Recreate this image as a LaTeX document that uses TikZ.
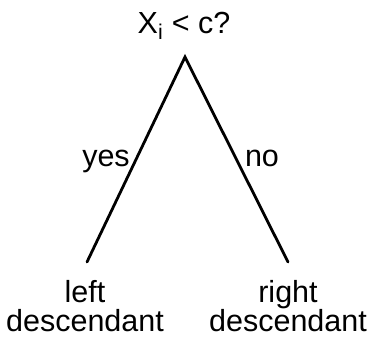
\documentclass[tikz,border=0pt]{standalone}
\usepackage{fontspec}
\setmainfont{Liberation Sans}
\begin{document}
\begin{tikzpicture}[x=1pt,y=-1pt,
  lbl/.style={font=\fontsize{30.5}{27}\selectfont, inner sep=0pt},
  edge/.style={line width=2.8pt, line cap=round}]
\useasboundingbox (0,0) rectangle (372,340);
\node[lbl, anchor=base] (q) at (184,33) {X$_{\mathrm{i}}$ < c?};
\coordinate (apex) at (185,57);
\coordinate (lend) at (87,262);
\coordinate (rend) at (288,262);
\draw[edge] (lend) -- (apex) -- (rend);
\node[lbl, anchor=base] (yes) at (106,166) {yes};
\node[lbl, anchor=base] (no) at (262,166) {no};
\node[lbl, anchor=base] (l1) at (85,302.5) {left};
\node[lbl, anchor=base] (l2) at (85,331.5) {descendant};
\node[lbl, anchor=base] (r1) at (288,302.5) {right};
\node[lbl, anchor=base] (r2) at (288,331.5) {descendant};
\end{tikzpicture}
\end{document}
